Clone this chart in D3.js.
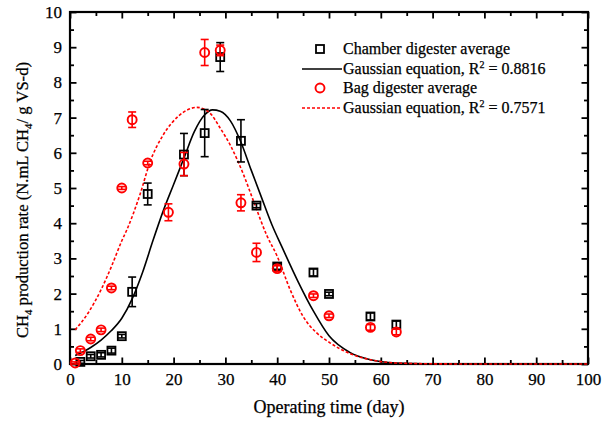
<!DOCTYPE html>
<html>
<head>
<meta charset="utf-8">
<script src="https://cdn.jsdelivr.net/npm/d3@7"></script>
<style>
body { margin: 0; background: #fff; }
text { font-family: "Liberation Serif", "Times New Roman", serif; fill: #000; stroke: #000; stroke-width: 0.25px; }
</style>
</head>
<body>
<script>
// chamber digester (squares)
var chamberDay = [2, 4, 6, 8, 10, 12, 15, 22, 26, 29, 33, 36, 40, 47, 50, 58, 63];
var chamberVal = [0.06, 0.22, 0.26, 0.38, 0.79, 2.05, 4.83, 5.95, 6.56, 8.72, 6.34, 4.5, 2.77, 2.6, 1.99, 1.35, 1.12];
var chamberErr = [0.04, 0.05, 0.06, 0.07, 0.05, 0.42, 0.31, 0.6, 0.67, 0.41, 0.6, 0.06, 0.08, 0.1, 0.05, 0.1, 0.1];

// bag digester (circles)
var bagDay = [1, 2, 4, 6, 8, 10, 12, 15, 19, 22, 26, 29, 33, 36, 40, 47, 50, 58, 63];
var bagVal = [0.03, 0.38, 0.71, 0.97, 2.16, 5.0, 6.94, 5.71, 4.31, 5.68, 8.85, 8.91, 4.58, 3.17, 2.71, 1.94, 1.37, 1.04, 0.91];
var bagErr = [0.03, 0.05, 0.05, 0.05, 0.05, 0.04, 0.22, 0.05, 0.24, 0.33, 0.37, 0.15, 0.23, 0.26, 0.08, 0.05, 0.05, 0.08, 0.08];

// gaussian fit curves
var fitChamberDay = [1, 4, 6, 8, 10, 12, 14, 16, 18, 20, 22, 24, 26, 27.5, 29, 31, 33, 35, 37, 39, 41, 44, 47, 50, 54, 58, 63, 70, 80, 100];
var fitChamberVal = [0.24, 0.47, 0.68, 0.95, 1.3, 1.85, 2.6, 3.5, 4.35, 5.1, 5.85, 6.6, 7.08, 7.22, 7.18, 6.9, 6.3, 5.5, 4.72, 3.95, 3.3, 2.35, 1.5, 0.8, 0.33, 0.12, 0.03, 0.005, 0, 0];
var fitBagDay = [1, 3.5, 6, 8, 10, 11, 13.5, 15.5, 18, 21, 24.5, 27, 29, 31, 33.5, 35.5, 38, 40, 42.5, 45, 47.5, 50, 54, 58, 63, 70, 80, 100];
var fitBagVal = [0.97, 1.45, 2.11, 2.77, 3.5, 3.82, 4.81, 5.76, 6.51, 7.05, 7.29, 7.13, 6.7, 6.2, 5.38, 4.6, 3.65, 3.06, 2.11, 1.35, 0.9, 0.62, 0.3, 0.12, 0.03, 0.005, 0, 0];

var xTicks = [0, 10, 20, 30, 40, 50, 60, 70, 80, 90, 100];
var yTicks = [0, 1, 2, 3, 4, 5, 6, 7, 8, 9, 10];

var W = 609, H = 421;
var margin = {top: 12, right: 21, bottom: 57, left: 70};
var width = W - margin.left - margin.right,
    height = H - margin.top - margin.bottom;

var svg = d3.select("body").append("svg")
  .attr("width", W).attr("height", H);
var g = svg.append("g").attr("transform", "translate(" + margin.left + "," + margin.top + ")");

var x = d3.scaleLinear().domain([0, 100]).range([0, width]);
var y = d3.scaleLinear().domain([0, 10]).range([height, 0]);

var minorX = d3.range(5, 100, 10), minorY = d3.range(0.5, 10, 1);

function styleAxis(sel) {
  sel.select(".domain").remove();
  sel.selectAll("line").attr("stroke", "#000").attr("stroke-width", 1.8);
  sel.selectAll("text").style("font-size", "17px");
}

// major + minor ticks, inward, on all four sides
g.append("g").attr("transform", "translate(0," + height + ")")
  .call(d3.axisBottom(x).tickValues(xTicks).tickSize(-6.5).tickPadding(9)).call(styleAxis);
g.append("g").attr("transform", "translate(0," + height + ")")
  .call(d3.axisBottom(x).tickValues(minorX).tickSize(-4).tickFormat("")).call(styleAxis);
g.append("g")
  .call(d3.axisTop(x).tickValues(xTicks).tickSize(-6.5).tickFormat("")).call(styleAxis);
g.append("g")
  .call(d3.axisTop(x).tickValues(minorX).tickSize(-4).tickFormat("")).call(styleAxis);
g.append("g")
  .call(d3.axisLeft(y).tickValues(yTicks).tickSize(-6.5).tickPadding(8)).call(styleAxis);
g.append("g")
  .call(d3.axisLeft(y).tickValues(minorY).tickSize(-4).tickFormat("")).call(styleAxis);
g.append("g").attr("transform", "translate(" + width + ",0)")
  .call(d3.axisRight(y).tickValues(yTicks).tickSize(-6.5).tickFormat("")).call(styleAxis);
g.append("g").attr("transform", "translate(" + width + ",0)")
  .call(d3.axisRight(y).tickValues(minorY).tickSize(-4).tickFormat("")).call(styleAxis);

g.append("rect").attr("width", width).attr("height", height)
  .attr("fill", "none").attr("stroke", "#000").attr("stroke-width", 2.2);

// fit curves
var line = d3.line().x(function(d){ return x(d[0]); }).y(function(d){ return y(d[1]); })
  .curve(d3.curveMonotoneX);

g.append("path").datum(d3.zip(fitChamberDay, fitChamberVal))
  .attr("d", line).attr("fill", "none").attr("stroke", "#000").attr("stroke-width", 1.6);
g.append("path").datum(d3.zip(fitBagDay, fitBagVal))
  .attr("d", line).attr("fill", "none").attr("stroke", "#ff0000").attr("stroke-width", 1.6)
  .attr("stroke-dasharray", "3,2");

function errorBars(days, vals, errs, color) {
  var eg = g.append("g").attr("stroke", color).attr("stroke-width", 1.6);
  days.forEach(function(d, i) {
    var cx = x(d), y1 = y(vals[i] + errs[i]), y2 = y(vals[i] - errs[i]);
    eg.append("line").attr("x1", cx).attr("x2", cx).attr("y1", y1).attr("y2", y2);
    eg.append("line").attr("x1", cx - 4).attr("x2", cx + 4).attr("y1", y1).attr("y2", y1);
    eg.append("line").attr("x1", cx - 4).attr("x2", cx + 4).attr("y1", y2).attr("y2", y2);
  });
}

errorBars(chamberDay, chamberVal, chamberErr, "#000");
g.append("g").selectAll("rect").data(d3.zip(chamberDay, chamberVal)).enter()
  .append("rect")
  .attr("x", function(d){ return x(d[0]) - 4; })
  .attr("y", function(d){ return y(d[1]) - 4; })
  .attr("width", 8).attr("height", 8)
  .attr("fill", "none").attr("stroke", "#000").attr("stroke-width", 1.8);

errorBars(bagDay, bagVal, bagErr, "#ff0000");
g.append("g").selectAll("circle").data(d3.zip(bagDay, bagVal)).enter()
  .append("circle")
  .attr("cx", function(d){ return x(d[0]); })
  .attr("cy", function(d){ return y(d[1]); })
  .attr("r", 4.5)
  .attr("fill", "none").attr("stroke", "#ff0000").attr("stroke-width", 1.9);

// legend
var legendLabels = ["Chamber digester average", "Gaussian equation, R", "Bag digester average", "Gaussian equation, R"];
var legendR2 = ["", "0.8816", "", "0.7571"];
var lg = svg.append("g");
var rowsY = [49, 69, 88, 108];
lg.append("rect").attr("x", 316).attr("y", rowsY[0] - 4).attr("width", 8).attr("height", 8)
  .attr("fill", "none").attr("stroke", "#000").attr("stroke-width", 1.8);
lg.append("line").attr("x1", 302).attr("x2", 342).attr("y1", rowsY[1]).attr("y2", rowsY[1])
  .attr("stroke", "#000").attr("stroke-width", 1.6);
lg.append("circle").attr("cx", 320).attr("cy", rowsY[2]).attr("r", 4.5)
  .attr("fill", "none").attr("stroke", "#ff0000").attr("stroke-width", 1.9);
lg.append("line").attr("x1", 302).attr("x2", 342).attr("y1", rowsY[3]).attr("y2", rowsY[3])
  .attr("stroke", "#ff0000").attr("stroke-width", 1.6).attr("stroke-dasharray", "3,2");
legendLabels.forEach(function(t, i) {
  var tx = lg.append("text").attr("x", 343).attr("y", rowsY[i] + 5).style("font-size", "16px");
  tx.append("tspan").text(t);
  if (legendR2[i]) {
    tx.append("tspan").attr("dy", -6).style("font-size", "10px").text("2");
    tx.append("tspan").attr("dy", 6).text(" = " + legendR2[i]);
  }
});

// axis titles
svg.append("text").attr("x", margin.left + width / 2).attr("y", 413)
  .attr("text-anchor", "middle").style("font-size", "18px").text("Operating time (day)");

var yt = svg.append("text").attr("transform", "translate(28,200) rotate(-90)")
  .attr("text-anchor", "middle").style("font-size", "17px")
  .attr("textLength", 276).attr("lengthAdjust", "spacingAndGlyphs");
yt.append("tspan").text("CH");
yt.append("tspan").attr("dy", 4).style("font-size", "11px").text("4");
yt.append("tspan").attr("dy", -4).text(" production rate (N.mL CH");
yt.append("tspan").attr("dy", 4).style("font-size", "11px").text("4");
yt.append("tspan").attr("dy", -4).text("/ g VS-d)");
</script>
</body>
</html>
